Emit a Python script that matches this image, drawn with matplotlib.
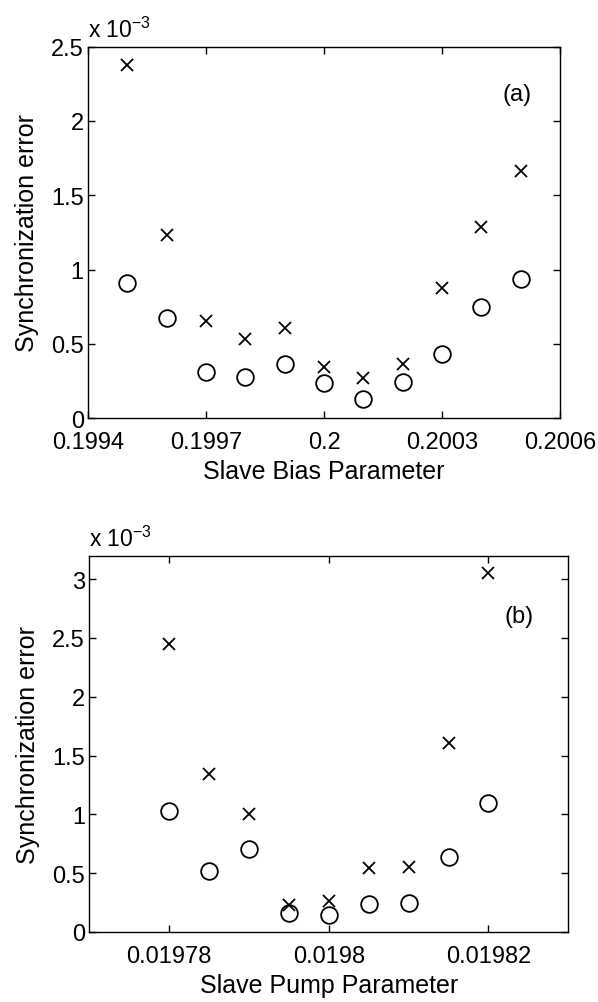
import numpy as np
import matplotlib.pyplot as plt
from matplotlib.transforms import offset_copy

plt.rcParams['font.family'] = ['Liberation Sans', 'DejaVu Sans']
plt.rcParams['mathtext.fontset'] = 'custom'
plt.rcParams['mathtext.rm'] = 'Liberation Sans'
plt.rcParams['mathtext.it'] = 'Liberation Sans'

# (a) slave bias sweep, errors in units of 1e-3
bias = [0.1995, 0.1996, 0.1997, 0.1998, 0.1999, 0.2000, 0.2001, 0.2002, 0.2003, 0.2004, 0.2005]
bias_err_x = [2.377, 1.232, 0.655, 0.532, 0.610, 0.346, 0.272, 0.368, 0.873, 1.284, 1.661]
bias_err_o = [0.911, 0.673, 0.312, 0.278, 0.364, 0.236, 0.132, 0.245, 0.431, 0.750, 0.934]
bias_ticks = [0.1994, 0.1997, 0.2, 0.2003, 0.2006]

# (b) slave pump sweep, errors in units of 1e-3
pump = [0.01978, 0.019785, 0.01979, 0.019795, 0.0198, 0.019805, 0.01981, 0.019815, 0.01982]
pump_err_x = [2.45, 1.34, 1.00, 0.23, 0.26, 0.54, 0.556, 1.61, 3.05]
pump_err_o = [1.025, 0.52, 0.705, 0.16, 0.147, 0.24, 0.248, 0.635, 1.095]
pump_ticks = [0.01978, 0.0198, 0.01982]

fs = 17
fig = plt.figure(figsize=(5.98, 10.03), dpi=100)
ax1 = fig.add_axes([0.1472, 0.5820, 0.7893, 0.3705])
ax2 = fig.add_axes([0.1493, 0.0698, 0.8010, 0.3752])


def style(ax, xticks, yticks, xlim, ylim, xlabel, tag, tagpos):
    ax.set_xlim(*xlim)
    ax.set_ylim(*ylim)
    ax.set_xticks(xticks)
    ax.set_xticklabels(['%g' % t for t in xticks])
    ax.set_yticks(yticks)
    ax.set_yticklabels(['%g' % t for t in yticks])
    ax.tick_params(direction='in', top=True, right=True, length=5, width=1,
                   labelsize=fs, pad=3)
    ax.tick_params(axis='x', pad=9.5)
    for s in ax.spines.values():
        s.set_linewidth(1)
    ax.set_xlabel(xlabel, fontsize=18, labelpad=4)
    ax.set_ylabel('Synchronization error', fontsize=18, labelpad=9)
    tr = offset_copy(ax.transAxes, fig=fig, x=0, y=5, units='dots')
    ax.text(0.0, 1.0, r'x 10$^{-3}$', transform=tr, fontsize=16.5,
            ha='left', va='bottom')
    ax.text(tagpos[0], tagpos[1], tag, transform=ax.transAxes, fontsize=fs,
            ha='center', va='center')


ax1.plot(bias, bias_err_x, 'x', color='black', markersize=8.5, markeredgewidth=1.3)
ax1.plot(bias, bias_err_o, 'o', color='black', mfc='none', markersize=12, markeredgewidth=1.3)
style(ax1, bias_ticks, [0, 0.5, 1, 1.5, 2, 2.5], (0.1994, 0.2006), (0, 2.5),
      'Slave Bias Parameter', '(a)', (0.908, 0.873))

ax2.plot(pump, pump_err_x, 'x', color='black', markersize=8.5, markeredgewidth=1.3)
ax2.plot(pump, pump_err_o, 'o', color='black', mfc='none', markersize=12, markeredgewidth=1.3)
style(ax2, pump_ticks, [0, 0.5, 1, 1.5, 2, 2.5, 3], (0.01977, 0.01983), (0, 3.2),
      'Slave Pump Parameter', '(b)', (0.898, 0.84))

fig.savefig('out.png', dpi=100)
